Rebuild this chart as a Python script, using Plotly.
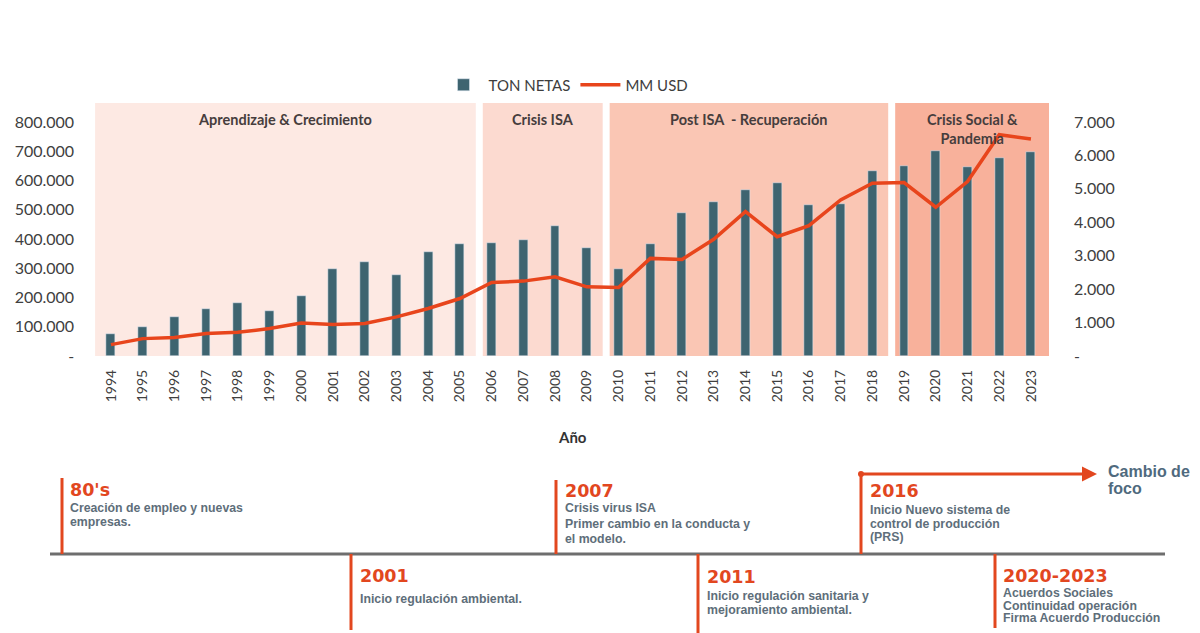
import plotly.graph_objects as go

# ---------------- data ----------------
years = [1994, 1995, 1996, 1997, 1998, 1999, 2000, 2001, 2002, 2003,
         2004, 2005, 2006, 2007, 2008, 2009, 2010, 2011, 2012, 2013,
         2014, 2015, 2016, 2017, 2018, 2019, 2020, 2021, 2022, 2023]
ton_netas = [75000, 98000, 135000, 160000, 180000, 155000, 205000, 298000, 321000, 277000,
             354000, 384000, 388000, 397000, 445000, 370000, 297000, 384000, 489000, 528000,
             568000, 591000, 517000, 520000, 631000, 651000, 702000, 647000, 677000, 696000]
mm_usd = [340, 520, 550, 670, 710, 820, 990, 940, 970, 1170,
          1420, 1720, 2200, 2240, 2370, 2070, 2050, 2920, 2890, 3490,
          4320, 3570, 3900, 4670, 5170, 5190, 4450, 5220, 6620, 6490]

left_tickvals = [0, 100000, 200000, 300000, 400000, 500000, 600000, 700000, 800000]
left_ticktext = ["-", "100.000", "200.000", "300.000", "400.000", "500.000",
                 "600.000", "700.000", "800.000"]
right_tickvals = [0, 1000, 2000, 3000, 4000, 5000, 6000, 7000]
right_ticktext = ["-", "1.000", "2.000", "3.000", "4.000", "5.000", "6.000", "7.000"]

series_names = ["TON NETAS", "MM USD"]
x_title = "Año"

phase_names = ["Aprendizaje & Crecimiento", "Crisis ISA", "Post ISA  - Recuperación",
               "Crisis Social &<br>Pandemia"]
phase_start = [1994, 2006, 2010, 2019]
phase_end = [2005, 2009, 2018, 2023]

milestone_titles = ["80's", "2001", "2007", "2011", "2016", "2020-2023"]
milestone_texts = [
    ["Creación de empleo y nuevas", "empresas."],
    ["Inicio regulación ambiental."],
    ["Crisis virus ISA", "Primer cambio en la conducta y", "el modelo."],
    ["Inicio regulación sanitaria y", "mejoramiento ambiental."],
    ["Inicio Nuevo sistema de", "control de producción", "(PRS)"],
    ["Acuerdos Sociales", "Continuidad operación", "Firma Acuerdo Producción"],
]
focus_text = ["Cambio de", "foco"]

# ---------------- styles / layout helpers ----------------
OFF = 8  # page body margin
W, H = 1200 - OFF, 633 - OFF
BAR_C = "#3e6470"
LINE_C = "#e8451c"
RED = "#e2471f"
BODY_C = "#5e6e7a"
phase_colors = ["#fde9e3", "#fcdad0", "#fac6b4", "#f8b19b"]

def px(x):
    return (x - OFF) / W

def py(y):
    return 1 - (y - OFF) / H

PLOT_L, PLOT_R, PLOT_T, PLOT_B = 95.1, 1049.0, 103.0, 356.0
TOP_TICK = 122.0
left_max = 800000 * (PLOT_B - PLOT_T) / (PLOT_B - TOP_TICK)
right_max = 7000 * (PLOT_B - PLOT_T) / (PLOT_B - TOP_TICK)
x_end = 1993.5 + (PLOT_R - PLOT_L) / ((1031 - 111) / 29)

fig = go.Figure()
fig.add_trace(go.Bar(x=years, y=ton_netas, name=series_names[0], marker_color=BAR_C,
                     width=0.28, yaxis="y"))
fig.add_trace(go.Scatter(x=years, y=mm_usd, name=series_names[1], mode="lines",
                         line=dict(color=LINE_C, width=3.5), yaxis="y2"))

shapes = []
annotations = []

# phase backgrounds
for i, (s, e) in enumerate(zip(phase_start, phase_end)):
    x0 = s - 0.5 + (0.22 if i > 0 else 0)
    x1 = e + 0.5 + (0.07 if i == len(phase_start) - 1 else 0)
    shapes.append(dict(type="rect", xref="x", yref="paper", x0=x0, x1=x1,
                       y0=py(PLOT_B), y1=py(PLOT_T), fillcolor=phase_colors[i],
                       line=dict(width=0), layer="below"))
    annotations.append(dict(xref="x", yref="paper", x=(x0 + x1) / 2, y=py(109),
                            yanchor="top", xanchor="center", showarrow=False,
                            text="<b>" + phase_names[i] + "</b>",
                            font=dict(family="Lato", size=14.5, color="#463d3d")))

# timeline base line
shapes.append(dict(type="line", xref="paper", yref="paper", x0=px(50), x1=px(1165),
                   y0=py(554), y1=py(554), line=dict(color="#6e6e6e", width=3)))

# (line x, line top, line bottom, title x, title y, first body line y, line spacing)
tl_pos = [
    (62, 478, 554, 70, 490, 508, 13.5),
    (351, 554, 630, 360, 576, 599, 13.5),
    (556, 480, 554, 565, 491, 508, 15.5),
    (698, 554, 633, 707, 577, 596, 13.5),
    (861, 474, 554, 870, 491, 510, 13.5),
    (995, 554, 628, 1003, 576, 593, 12.5),
]
for (lx, ly0, ly1, tx, ty, by, sp), title, body in zip(tl_pos, milestone_titles, milestone_texts):
    shapes.append(dict(type="line", xref="paper", yref="paper", x0=px(lx), x1=px(lx),
                       y0=py(ly0), y1=py(ly1), line=dict(color=RED, width=3)))
    annotations.append(dict(xref="paper", yref="paper", x=px(tx - 2), y=py(ty),
                            xanchor="left", yanchor="middle", showarrow=False,
                            text="<b>" + title + "</b>",
                            font=dict(family="DejaVu Sans", size=17.5, color=RED)))
    for j, line in enumerate(body):
        annotations.append(dict(xref="paper", yref="paper", x=px(tx - 2), y=py(by + j * sp),
                                xanchor="left", yanchor="middle", showarrow=False,
                                text="<b>" + line + "</b>",
                                font=dict(family="Liberation Sans", size=12.3, color=BODY_C)))

# "Cambio de foco" arrow
annotations.append(dict(xref="paper", yref="paper", x=px(1097), y=py(474),
                        ax=-236, ay=0, showarrow=True, arrowhead=2, arrowsize=1,
                        arrowwidth=3, arrowcolor=RED, text=""))
shapes.append(dict(type="circle", xref="paper", yref="paper", x0=px(858), x1=px(864),
                   y0=py(471), y1=py(477), fillcolor=RED, line=dict(width=0)))
for t, yy in zip(focus_text, [471, 489]):
    annotations.append(dict(xref="paper", yref="paper", x=px(1106), y=py(yy),
                            xanchor="left", yanchor="middle", showarrow=False,
                            text="<b>" + t + "</b>",
                            font=dict(family="Liberation Sans", size=16, color="#4f6a7e")))

# x axis title
annotations.append(dict(xref="paper", yref="paper", x=px(572), y=py(437),
                        xanchor="center", yanchor="middle", showarrow=False,
                        text="<b>" + x_title + "</b>",
                        font=dict(family="Lato", size=15, color="#333333")))

fig.update_layout(
    width=W, height=H,
    margin=dict(l=0, r=0, t=0, b=0),
    paper_bgcolor="white", plot_bgcolor="rgba(0,0,0,0)",
    font=dict(family="Lato", color="#404040"),
    showlegend=True,
    legend=dict(orientation="h", x=px(566), y=py(85), xanchor="center", yanchor="middle",
                font=dict(family="Lato", size=15, color="#3d3d3d"), bgcolor="rgba(0,0,0,0)",
                itemwidth=40, tracegroupgap=0),
    xaxis=dict(domain=[px(PLOT_L), px(PLOT_R)], range=[1993.5, x_end],
               tickmode="array", tickvals=years, ticktext=[str(y) for y in years],
               tickangle=-90, showgrid=False, zeroline=False, showline=False,
               ticks="", ticklabelstandoff=10, automargin=False,
               tickfont=dict(family="Lato", size=14, color="#404040")),
    yaxis=dict(domain=[py(PLOT_B), py(PLOT_T)], range=[0, left_max],
               tickmode="array", tickvals=left_tickvals, ticktext=left_ticktext,
               showgrid=False, zeroline=False, showline=False, ticks="",
               ticklabelstandoff=20, automargin=False,
               tickfont=dict(family="Lato", size=16, color="#404040")),
    yaxis2=dict(overlaying="y", side="right", range=[0, right_max],
                tickmode="array", tickvals=right_tickvals, ticktext=right_ticktext,
                showgrid=False, zeroline=False, showline=False, ticks="",
                ticklabelstandoff=24, automargin=False,
                tickfont=dict(family="Lato", size=16, color="#404040")),
    shapes=shapes,
    annotations=annotations,
    bargap=0,
)

fig.write_html("out.html")
